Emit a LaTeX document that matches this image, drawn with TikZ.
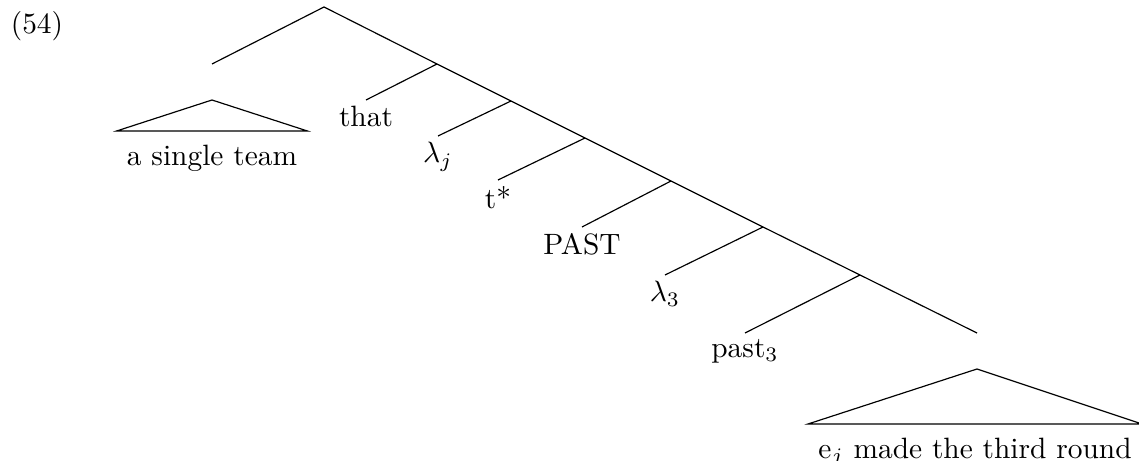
\documentclass[tikz,border=0pt]{standalone}
\usepackage{amsmath}
\usepackage{tikz}
\usetikzlibrary{positioning}
\tikzset{
  branch/.style={draw, line width=0.4pt},
  leaf/.style={anchor=north, inner sep=2pt},
  roof/.style={anchor=north, inner xsep=3.33pt, inner ysep=4.5pt},
}
\begin{document}
\begin{tikzpicture}[x=0.34pt, y=-0.34pt]
  \useasboundingbox (0,0) rectangle (1139,461);
  \node (exnum) at (37,26) {(54)};

  % spine of the tree
  \coordinate (root) at (324,7);
  \coordinate (dp)   at (212,64);
  \coordinate (n1)   at (437,64);
  \coordinate (n2)   at (511,101);
  \coordinate (n3)   at (585,138);
  \coordinate (n4)   at (671,181);
  \coordinate (n5)   at (763,227);
  \coordinate (n6)   at (860,275);
  \coordinate (vp)   at (977,333);

  % leaves
  \node[leaf] (that)  at (366,100) {that};
  \node[leaf] (lamj)  at (438,136) {$\lambda_j$};
  \node[leaf] (tstar) at (498,180) {t*};
  \node[leaf] (pastc) at (582,227) {PAST};
  \node[leaf] (lam3)  at (665,275) {$\lambda_3$};
  \node[leaf] (past3) at (745,333) {past$_3$};

  % roofs
  \coordinate (dptop) at (212,100);
  \node[roof] (team) at (212,131) {a single team};
  \coordinate (vptop) at (977,369);
  \node[roof] (round) at (975,424) {e$_j$ made the third round};

  \draw[branch] (dp) -- (root) -- (n1) -- (n2) -- (n3) -- (n4) -- (n5) -- (n6) -- (vp);
  \draw[branch] (n1) -- (that.north);
  \draw[branch] (n2) -- (lamj.north);
  \draw[branch] (n3) -- (tstar.north);
  \draw[branch] (n4) -- (pastc.north);
  \draw[branch] (n5) -- (lam3.north);
  \draw[branch] (n6) -- (past3.north);
  \draw[branch] (dptop) -- (team.north west) -- (team.north east) -- cycle;
  \draw[branch] (vptop) -- (round.north west) -- (round.north east) -- cycle;
\end{tikzpicture}
\end{document}
